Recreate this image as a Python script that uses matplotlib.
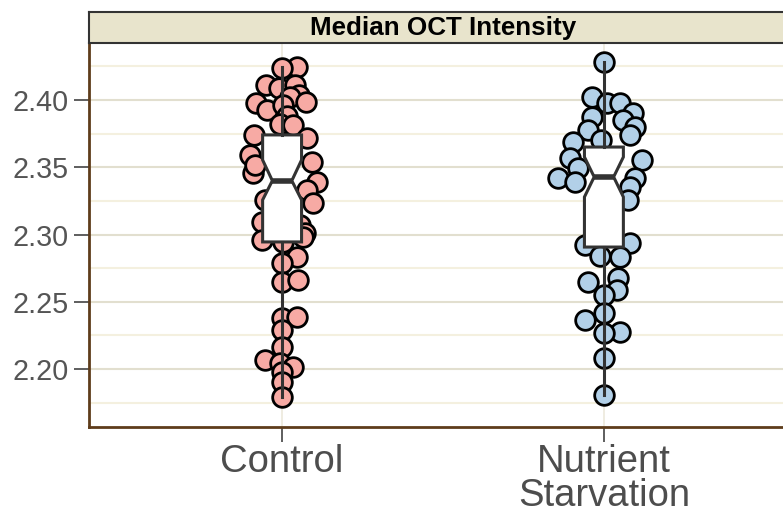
import numpy as np
import matplotlib.pyplot as plt
from matplotlib.ticker import MultipleLocator

# data (values, plus the horizontal jitter of each point)
groups = ["Control", "Nutrient\nStarvation"]
colors = ["#F7AAA4", "#B2D0E8"]

control_y = [2.4245, 2.4238, 2.4112, 2.4089, 2.4112, 2.4037, 2.4022, 2.3978, 2.3926, 2.3963,
             2.3985, 2.3881, 2.3822, 2.3814, 2.3740, 2.3717, 2.3591, 2.3457, 2.3517, 2.3539,
             2.3390, 2.3331, 2.3234, 2.3071, 2.3011, 2.3257, 2.3093, 2.2959, 2.2981, 2.2944,
             2.2833, 2.2788, 2.2647, 2.2662, 2.2379, 2.2387, 2.2290, 2.2164, 2.2067, 2.2045,
             2.2015, 2.1978, 2.1903, 2.1792]
control_jit = [0.047, 0.000, -0.050, -0.009, 0.040, 0.053, 0.025, -0.081, -0.047, 0.003,
               0.075, 0.016, -0.006, 0.034, -0.087, 0.078, -0.099, -0.090, -0.084, 0.093,
               0.109, 0.078, 0.096, 0.056, 0.071, -0.053, -0.062, -0.062, 0.065, 0.003,
               0.047, 0.000, 0.000, 0.050, 0.000, 0.047, 0.000, 0.000, -0.053, -0.006,
               0.034, 0.000, 0.000, 0.000]

starv_y = [2.4283, 2.4022, 2.3978, 2.3978, 2.3903, 2.3874, 2.3851, 2.3799, 2.3777, 2.3688,
           2.3740, 2.3703, 2.3569, 2.3554, 2.3494, 2.3420, 2.3390, 2.3420, 2.3353, 2.3257,
           2.2922, 2.2937, 2.2833, 2.2840, 2.2647, 2.2677, 2.2587, 2.2550, 2.2416, 2.2364,
           2.2275, 2.2268, 2.2082, 2.1807]
starv_jit = [0.000, -0.037, 0.009, 0.050, 0.090, -0.037, 0.059, 0.096, -0.050, -0.096,
             0.081, -0.009, -0.106, 0.118, -0.081, -0.143, -0.090, 0.096, 0.081, 0.075,
             -0.059, 0.081, 0.050, -0.012, -0.050, 0.043, 0.040, 0.000, 0.000, -0.059,
             0.050, 0.000, 0.000, 0.000]

# box stats as drawn (notched, ggplot style)
q1 = [2.2945, 2.2907]
med = [2.3400, 2.3428]
q3 = [2.3740, 2.3650]
whis_lo = [2.1792, 2.1807]
whis_hi = [2.4245, 2.4283]
notch_lo = [2.3257, 2.3279]
notch_hi = [2.3554, 2.3576]

plt.rcParams['font.family'] = ['Liberation Sans', 'DejaVu Sans']

fig = plt.figure(figsize=(7.83, 5.16), dpi=100)
ax = fig.add_axes([89/783, 1 - 427/516, 708/783, 384/516])
strip = fig.add_axes([89/783, 1 - 43/516, 708/783, 31/516])

# points first, box on top
for i, (ys, jit) in enumerate([(control_y, control_jit), (starv_y, starv_jit)]):
    xs = np.array(jit) + i + 1
    ax.scatter(xs, ys, s=200, facecolor=colors[i], edgecolor="black", linewidth=2.0, zorder=2)

stats = []
for i in range(2):
    stats.append(dict(med=med[i], q1=q1[i], q3=q3[i], whislo=whis_lo[i], whishi=whis_hi[i],
                      cilo=notch_lo[i], cihi=notch_hi[i], fliers=[]))
ax.bxp(stats, positions=[1, 2], widths=0.121, shownotches=True, patch_artist=True,
       showcaps=False, showfliers=False,
       boxprops=dict(facecolor="white", edgecolor="#333333", linewidth=2.2),
       whiskerprops=dict(color="#333333", linewidth=2.2),
       medianprops=dict(color="#333333", linewidth=4.0),
       zorder=3)

ax.set_xlim(0.4, 2.6)
ax.set_ylim(2.157, 2.4423)
ax.set_xticks([1, 2])
ax.set_xticklabels(groups, fontsize=27.5, color="#4D4D4D", linespacing=0.92)
ax.yaxis.set_major_locator(MultipleLocator(0.05))
ax.yaxis.set_minor_locator(MultipleLocator(0.025))
ax.set_yticks([2.20, 2.25, 2.30, 2.35, 2.40])
ax.set_yticklabels(["2.20", "2.25", "2.30", "2.35", "2.40"], fontsize=20.7, color="#555555")
ax.tick_params(axis="both", which="major", length=10.5, width=1.1, color="#333333", pad=4)
ax.tick_params(axis="x", which="major", pad=2)
ax.tick_params(axis="y", which="minor", length=0)

ax.set_axisbelow(True)
ax.grid(axis="y", which="major", color="#E2DFCF", linewidth=1.5, zorder=0)
ax.grid(axis="y", which="minor", color="#F4F0DF", linewidth=1.5, zorder=0)
ax.grid(axis="x", which="major", color="#ECE9DC", linewidth=1.2, zorder=0)

for side in ["top", "right"]:
    ax.spines[side].set_visible(False)
for side in ["left", "bottom"]:
    ax.spines[side].set_color("#5E3C1B")
    ax.spines[side].set_linewidth(2.0)

# facet strip
strip.set_facecolor("#E8E4CC")
strip.set_xticks([])
strip.set_yticks([])
for side in strip.spines:
    strip.spines[side].set_color("#333333")
    strip.spines[side].set_linewidth(1.5)
strip.text(0.5, 0.5, "Median OCT Intensity", transform=strip.transAxes, ha="center", va="center",
           fontsize=18.7, fontweight="bold", color="black")

fig.savefig("out.png", dpi=100)
